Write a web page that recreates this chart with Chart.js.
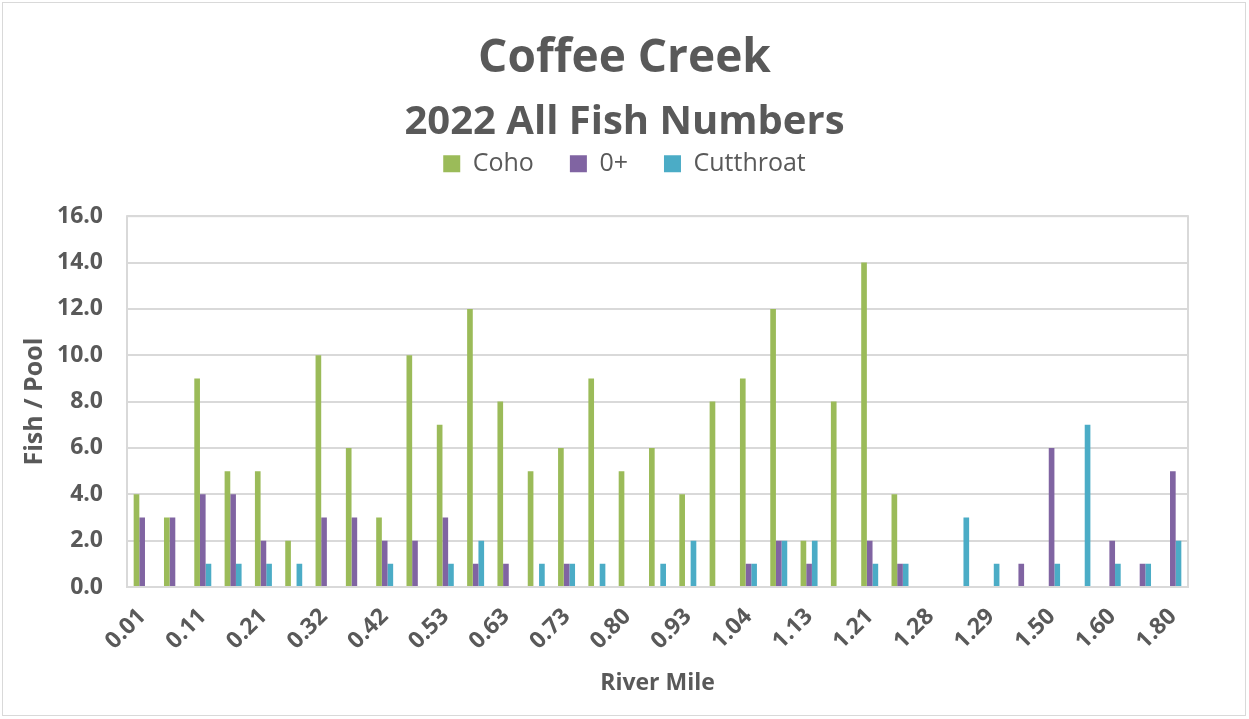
<!DOCTYPE html>
<html>
<head>
<meta charset="utf-8">
<script src="https://cdn.jsdelivr.net/npm/chart.js@4"></script>
<style>
  html, body { margin: 0; padding: 0; background: #fff; }
  #wrap { position: relative; width: 1249px; height: 719px; }
  #frame { position: absolute; left: 2px; top: 2px; width: 1242px; height: 712px; border: 1px solid #d9d9d9; pointer-events: none; }
</style>
</head>
<body>
<div id="wrap">
  <canvas id="fishChart" width="1249" height="719"></canvas>
  <div id="frame"></div>
</div>
<script>
const riverMile = ['0.01', '0.06', '0.11', '0.16', '0.21', '0.26', '0.32', '0.37', '0.42', '0.47',
  '0.53', '0.58', '0.63', '0.68', '0.73', '0.77', '0.80', '0.86', '0.93', '0.98',
  '1.04', '1.08', '1.13', '1.17', '1.21', '1.25', '1.28', '1.28', '1.29', '1.40',
  '1.50', '1.55', '1.60', '1.70', '1.80'];
const coho = [4, 3, 9, 5, 5, 2, 10, 6, 3, 10, 7, 12, 8, 5, 6, 9, 5, 6, 4, 8,
  9, 12, 2, 8, 14, 4, 0, 0, 0, 0, 0, 0, 0, 0, 0];
const zeroPlus = [3, 3, 4, 4, 2, 0, 3, 3, 2, 2, 3, 1, 1, 0, 1, 0, 0, 0, 0, 0,
  1, 2, 1, 0, 2, 1, 0, 0, 0, 1, 6, 0, 2, 1, 5];
const cutthroat = [0, 0, 1, 1, 1, 1, 0, 0, 1, 0, 1, 2, 0, 1, 1, 1, 0, 1, 2, 0,
  1, 2, 2, 0, 1, 1, 0, 3, 1, 0, 1, 7, 1, 1, 2];
const yTicks = [0, 2, 4, 6, 8, 10, 12, 14, 16];

const textColor = '#595959';
const fontFamily = '"Open Sans", "Noto Sans", sans-serif';

// light frame around the plot area
const plotFrame = {
  id: 'plotFrame',
  beforeDatasetsDraw(chart) {
    const { ctx, chartArea: a } = chart;
    ctx.save();
    ctx.strokeStyle = '#d9d9d9';
    ctx.lineWidth = 2;
    ctx.strokeRect(a.left, a.top, a.right - a.left, a.bottom - a.top);
    ctx.restore();
  }
};

// empty axis used only to reserve space next to the plot
const spacer = (size) => ({
  display: true,
  grid: { display: false },
  border: { display: false },
  ticks: { display: false },
  afterFit: (axis) => {
    if (axis.isHorizontal()) axis.height = size; else axis.width = size;
  }
});

new Chart(document.getElementById('fishChart'), {
  type: 'bar',
  data: {
    labels: riverMile,
    datasets: [
      { label: 'Coho', data: coho, backgroundColor: '#9bbb59' },
      { label: '0+', data: zeroPlus, backgroundColor: '#8064a2' },
      { label: 'Cutthroat', data: cutthroat, backgroundColor: '#4bacc6' }
    ]
  },
  options: {
    responsive: false,
    animation: false,
    layout: { padding: 0 },
    datasets: { bar: { categoryPercentage: 0.56, barPercentage: 1.0 } },
    plugins: {
      title: {
        display: true,
        text: 'Coffee Creek',
        color: textColor,
        font: { family: fontFamily, size: 46, weight: 'bold' },
        padding: { top: 31, bottom: 1 }
      },
      subtitle: {
        display: true,
        text: '2022 All Fish Numbers',
        color: textColor,
        font: { family: fontFamily, size: 40, weight: 'bold' },
        padding: { top: 11, bottom: -31 }
      },
      legend: {
        position: 'top',
        labels: {
          color: textColor,
          font: { family: fontFamily, size: 25 },
          boxWidth: 17,
          boxHeight: 17,
          padding: 36
        }
      },
      tooltip: { enabled: false }
    },
    scales: {
      x: {
        afterFit: (axis) => { axis.height = 132; },
        grid: { display: false },
        border: { color: '#000', width: 2 },
        ticks: {
          autoSkip: false,
          maxRotation: 45,
          minRotation: 45,
          padding: 8,
          color: textColor,
          font: { family: fontFamily, size: 23, weight: 'bold' },
          callback: (v, i) => (i % 2 === 0 ? riverMile[i] : '')
        },
        title: {
          display: true,
          text: 'River Mile',
          color: textColor,
          font: { family: fontFamily, size: 23, weight: 'bold' },
          padding: { top: 22, bottom: 22 }
        }
      },
      xTop: { type: 'category', position: 'top', ...spacer(30) },
      y: {
        min: 0,
        max: 16,
        afterFit: (axis) => { axis.width = 127; },
        afterBuildTicks: (axis) => { axis.ticks = yTicks.map(v => ({ value: v })); },
        grid: { color: '#d9d9d9', lineWidth: 2, drawTicks: false },
        border: { display: false },
        ticks: {
          padding: 24,
          color: textColor,
          font: { family: fontFamily, size: 23, weight: 'bold' },
          callback: (v) => v.toFixed(1)
        },
        title: {
          display: true,
          text: 'Fish / Pool',
          color: textColor,
          font: { family: fontFamily, size: 25, weight: 'bold' },
          padding: { top: 20, bottom: 20 }
        }
      },
      yRight: { type: 'linear', position: 'right', ...spacer(61) }
    }
  },
  plugins: [plotFrame]
});
</script>
</body>
</html>
